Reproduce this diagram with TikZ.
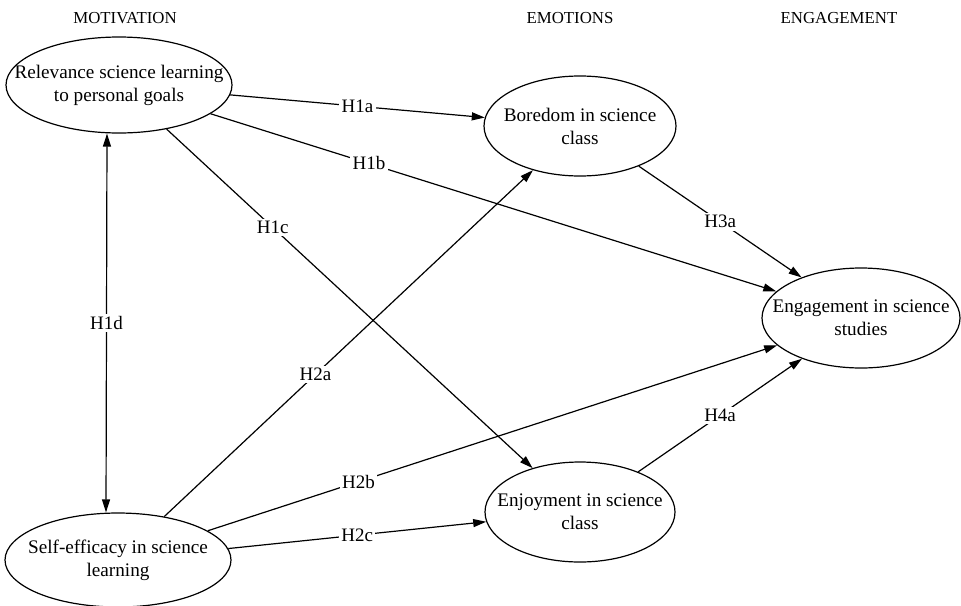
\documentclass[tikz,border=0pt]{standalone}
\usepackage{fontspec}
\setmainfont{Liberation Serif}
\usetikzlibrary{arrows.meta,shapes.geometric}
\tikzset{latent/.style={ellipse,draw,line width=0.6pt,inner sep=0pt},
  hyp/.style={-{Triangle[length=6.5pt,width=4pt]},line width=0.6pt},
  cov/.style={{Triangle[length=6.5pt,width=4pt]}-{Triangle[length=6.5pt,width=4pt]},line width=0.6pt},
  hlabel/.style={fill=white,inner sep=1.2pt,font=\fontsize{9.5}{11.5}\selectfont},
  inlabel/.style={align=center,font=\fontsize{9.6}{11.5}\selectfont},
  header/.style={font=\fontsize{8.4}{10}\selectfont}}

\begin{document}
\begin{tikzpicture}[x=0.5pt,y=-0.5pt]
\useasboundingbox (0,0) rectangle (961,605);
% column headers
\node[header] (hmot) at (125,18) {MOTIVATION};
\node[header] (hemo) at (570,18) {EMOTIONS};
\node[header] (heng) at (839,18) {ENGAGEMENT};
% constructs
\node[latent, minimum width=113pt, minimum height=48pt,
  label={[inlabel]center:Relevance science learning\\to personal goals}] (rel) at (119,85) {};
\node[latent, minimum width=113pt, minimum height=47pt,
  label={[inlabel]center:Self-efficacy in science\\learning}] (self) at (118,560) {};
\node[latent, minimum width=96pt, minimum height=50pt,
  label={[inlabel]center:Boredom in science\\class}] (bor) at (580,126) {};
\node[latent, minimum width=95pt, minimum height=50pt,
  label={[inlabel]center:Enjoyment in science\\class}] (enj) at (580,512) {};
\node[latent, minimum width=99pt, minimum height=50pt,
  label={[inlabel]center:Engagement in science\\studies}] (eng) at (861,318) {};
% hypotheses
\draw[hyp] (rel) -- node[hlabel] {H1a} (bor);
\draw[hyp] (rel) -- node[hlabel, pos=0.28] {H1b} (eng);
\draw[hyp] (rel) -- node[hlabel, pos=0.29] {H1c} (enj);
\draw[cov] ([xshift=-6pt]rel.south) -- node[hlabel] {H1d} ([xshift=-6pt]self.north);
\draw[hyp] (self) -- node[hlabel, pos=0.41] {H2a} (bor);
\draw[hyp] (self) -- node[hlabel, pos=0.265] {H2b} (eng);
\draw[hyp] (self) -- node[hlabel] {H2c} (enj);
\draw[hyp] (bor) -- node[hlabel] {H3a} (eng);
\draw[hyp] (enj) -- node[hlabel] {H4a} (eng);
\end{tikzpicture}
\end{document}
